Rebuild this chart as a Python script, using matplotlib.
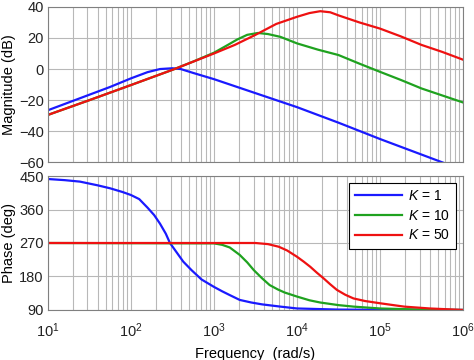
import numpy as np
import matplotlib
matplotlib.use("Agg")
import matplotlib.pyplot as plt

plt.rcParams['font.family'] = ['Liberation Sans', 'DejaVu Sans']
plt.rcParams['mathtext.fontset'] = 'custom'
plt.rcParams['mathtext.rm'] = 'Liberation Sans'
plt.rcParams['mathtext.it'] = 'Liberation Sans:italic'

# --- donnees (log10 de la frequence) ---
mag_logf_k1 = [1.0, 1.25, 1.5, 1.75, 2.0, 2.2, 2.35, 2.5, 2.6, 2.75, 3.0, 3.25, 3.5, 3.75, 4.0, 4.5, 5.0, 5.5, 6.0]
mag_k1 = [-26.5, -21.5, -16.5, -11.5, -6, -2, 0, 0.5, 0, -2.5, -6.5, -11, -15.5, -20, -24.5, -34.5, -45, -55, -65]

mag_logf_k10 = [1.0, 1.5, 2.0, 2.5, 2.75, 3.0, 3.15, 3.28, 3.4, 3.53, 3.65, 3.8, 4.0, 4.25, 4.5, 4.75, 5.0, 5.25, 5.5, 5.75, 6.0]
mag_k10 = [-29.5, -20, -10.3, -0.5, 4.8, 10.5, 15, 19, 22, 23.2, 22.5, 20.7, 16.5, 12.5, 9, 3.5, -1.8, -7, -12.5, -17, -21.5]

mag_logf_k50 = [1.0, 1.5, 2.0, 2.5, 3.0, 3.25, 3.5, 3.75, 4.0, 4.15, 4.28, 4.4, 4.5, 4.75, 5.0, 5.25, 5.5, 5.75, 6.0]
mag_k50 = [-29.5, -20, -10.3, -0.5, 10, 15.5, 22, 29, 33.6, 36, 37.2, 36.5, 34.5, 30, 26, 21, 15.5, 11, 6]

ph_logf_k1 = [1.0, 1.2, 1.386, 1.6, 1.75, 1.9, 2.0, 2.1, 2.2, 2.28, 2.35, 2.42, 2.47, 2.55, 2.63, 2.73, 2.85,
              3.0, 3.1, 3.19, 3.31, 3.45, 3.58, 3.8, 4.0, 4.5, 5.0, 6.0]
ph_k1 = [442, 439, 435, 425, 417, 407, 399, 388, 365, 345, 322, 295, 270, 245, 220, 197, 172,
         152, 140, 130, 117, 110, 105, 99, 94, 91, 90.5, 90]

ph_logf_k10 = [1.0, 3.0, 3.1, 3.19, 3.31, 3.4, 3.48, 3.58, 3.67, 3.77, 3.85, 4.0, 4.15, 4.28, 4.5, 4.68, 5.0, 5.5, 6.0]
ph_k10 = [270, 269, 265, 258, 238, 218, 197, 175, 157, 145, 137, 126, 116, 110, 103, 99, 94, 91, 90]

ph_logf_k50 = [1.0, 3.5, 3.65, 3.78, 3.88, 4.0, 4.08, 4.16, 4.24, 4.32, 4.4, 4.48, 4.58, 4.68, 4.82, 5.0, 5.29, 5.6, 6.0]
ph_k50 = [270, 270, 267, 260, 250, 233, 220, 206, 190, 175, 159, 144, 131, 121, 114, 108, 99, 94, 90]

labels = [r'$K$ = 1', r'$K$ = 10', r'$K$ = 50']
colors = ['#1a1aff', '#1fa21f', '#ee1111']

fig = plt.figure(figsize=(4.74, 3.6), dpi=100)
ax_mag = fig.add_axes([0.101, 0.549, 0.876, 0.432])
ax_ph = fig.add_axes([0.101, 0.139, 0.876, 0.372])

mag_sets = [(mag_logf_k1, mag_k1), (mag_logf_k10, mag_k10), (mag_logf_k50, mag_k50)]
ph_sets = [(ph_logf_k1, ph_k1), (ph_logf_k10, ph_k10), (ph_logf_k50, ph_k50)]

for (lf, v), c in zip(mag_sets, colors):
    ax_mag.semilogx(10 ** np.array(lf), v, color=c, lw=1.6)
for (lf, v), c, lab in zip(ph_sets, colors, labels):
    ax_ph.semilogx(10 ** np.array(lf), v, color=c, lw=1.6, label=lab)

for ax in (ax_mag, ax_ph):
    ax.set_xlim(1e1, 1e6)
    ax.grid(True, which='major', axis='both', color='#b8b8b8', lw=0.8)
    ax.grid(True, which='minor', axis='x', color='#b8b8b8', lw=0.8)
    ax.set_axisbelow(True)
    ax.tick_params(which='both', direction='in', length=0, labelsize=10.5, colors='#222222', pad=3)
    for s in ax.spines.values():
        s.set_color('#808080')
        s.set_linewidth(0.8)

ax_mag.set_ylim(-60, 40)
ax_mag.set_yticks([-60, -40, -20, 0, 20, 40])
ax_mag.tick_params(axis='x', which='both', labelbottom=False)
ax_mag.set_ylabel('Magnitude (dB)', fontsize=10.5, labelpad=2)

ax_ph.set_ylim(90, 450)
ax_ph.set_yticks([90, 180, 270, 360, 450])
ax_ph.set_ylabel('Phase (deg)', fontsize=10.5, labelpad=2)
ax_ph.set_xlabel('Frequency  (rad/s)', fontsize=10.5, labelpad=5)
ax_ph.tick_params(axis='x', pad=8)

leg = ax_ph.legend(loc='upper right', bbox_to_anchor=(0.983, 0.948), borderaxespad=0, fontsize=10,
                   fancybox=False, framealpha=1, edgecolor='black', handlelength=3.4,
                   borderpad=0.45, labelspacing=0.4, handletextpad=0.4)
leg.get_frame().set_linewidth(0.8)

fig.savefig('out.png', dpi=100)
